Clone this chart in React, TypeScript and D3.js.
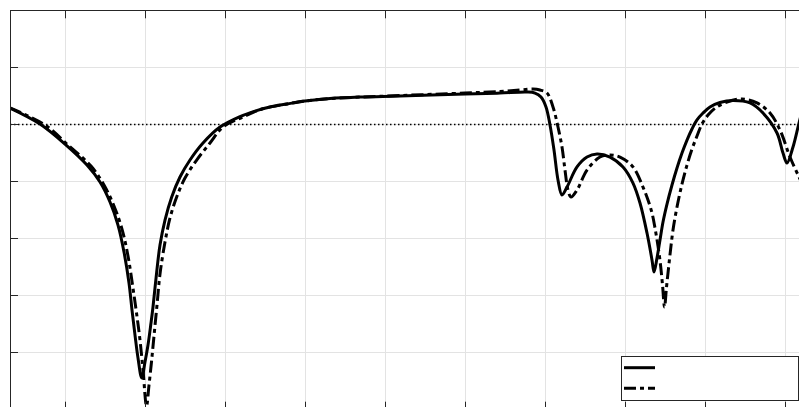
import React from "react"
import * as d3 from "d3"

const WIDTH = 799
const HEIGHT = 407

// frequency axis, grid every 1
const xTicks = [0, 1, 2, 3, 4, 5, 6, 7, 8, 9]
// magnitude axis, grid every 5
const yTicks = [0, -5, -10, -15, -20, -25, -30, -35]
const refLevel = -10

// solid series
const solidX = [
	-0.6875, -0.3125, 0, 0.275, 0.4375, 0.5625, 0.6625, 0.7375, 0.8, 0.8375,
	0.875, 0.9125, 0.959, 1.0, 1.0375, 1.075, 1.1, 1.146, 1.1875, 1.25,
	1.334, 1.4375, 1.5625, 1.725, 1.9375, 2.1875, 2.375, 2.5625, 2.775, 3.0,
	3.3125, 3.6875, 4.1875, 5.0, 5.4375, 5.775, 5.875, 5.95, 6.0125, 6.0625,
	6.1125, 6.1625, 6.2125, 6.275, 6.4, 6.525, 6.65, 6.8125, 6.975, 7.1,
	7.1875, 7.275, 7.3375, 7.3625, 7.4, 7.4375, 7.475, 7.525, 7.5875, 7.65,
	7.7125, 7.775, 7.8375, 7.9, 7.975, 8.0625, 8.1875, 8.35, 8.5625, 8.725,
	8.9, 8.975, 9.025, 9.1, 9.175, 9.25]
const solidY = [
	-8.56, -9.96, -11.72, -13.56, -15.05, -16.8, -18.82, -21.18, -23.9, -26.27,
	-28.46, -30.47, -32.22, -30.82, -29.33, -27.4, -26.0, -22.94, -20.57, -18.38,
	-16.36, -14.61, -13.12, -11.63, -10.23, -9.31, -8.83, -8.47, -8.21, -7.95,
	-7.73, -7.6, -7.51, -7.34, -7.25, -7.16, -7.25, -7.6, -8.47, -10.05,
	-12.24, -14.87, -16.19, -15.49, -13.73, -12.86, -12.59, -12.86, -13.73, -15.14,
	-16.89, -19.52, -21.88, -22.94, -21.71, -20.13, -18.55, -16.98, -15.31, -13.82,
	-12.51, -11.37, -10.4, -9.61, -9.0, -8.47, -8.08, -7.91, -8.12, -9.0,
	-10.75, -12.51, -13.38, -11.98, -9.88, -7.86]

// dash-dot series
const dashX = [
	-0.6875, -0.25, 0.05, 0.325, 0.4875, 0.6125, 0.7125, 0.7875, 0.844, 0.894,
	0.9375, 0.975, 1.019, 1.05, 1.081, 1.1125, 1.15, 1.1875, 1.25, 1.3125,
	1.396, 1.5, 1.646, 1.8125, 1.975, 2.225, 2.4625, 2.775, 3.0, 3.3125,
	3.6875, 4.1875, 5.0, 5.4375, 5.6875, 5.85, 5.9375, 6.025, 6.1, 6.1625,
	6.2125, 6.25, 6.2875, 6.325, 6.4, 6.525, 6.6875, 6.8125, 6.9375, 7.1,
	7.225, 7.2875, 7.3375, 7.375, 7.4125, 7.444, 7.469, 7.494, 7.519, 7.544,
	7.569, 7.6, 7.65, 7.7125, 7.775, 7.8375, 7.9, 7.9625, 8.0375, 8.1375,
	8.275, 8.4625, 8.65, 8.8125, 8.9375, 9.0625, 9.175, 9.25]
const dashY = [
	-8.56, -10.05, -11.89, -13.65, -15.31, -17.15, -19.17, -21.53, -24.07, -26.53,
	-28.9, -31.52, -34.68, -32.84, -30.82, -28.54, -25.83, -23.11, -20.31, -18.2,
	-16.36, -14.7, -13.12, -11.63, -10.23, -9.35, -8.65, -8.21, -7.95, -7.73,
	-7.6, -7.47, -7.25, -7.12, -6.99, -6.9, -6.99, -7.25, -8.47, -10.23,
	-11.98, -14.0, -15.75, -16.36, -15.75, -14.0, -12.86, -12.68, -12.86, -13.73,
	-15.49, -16.62, -17.76, -19.08, -20.66, -22.32, -24.07, -26.0, -24.25, -22.59,
	-21.01, -19.25, -17.24, -15.22, -13.56, -12.16, -11.02, -9.96, -9.18, -8.52,
	-8.04, -7.77, -8.12, -9.0, -10.49, -12.86, -14.61, -15.75]

const seriesNames = ["", ""]
const seriesDash = ["none", "12,4,4,4"]

export default function App() {
	const x = d3.scaleLinear().domain([-0.6875, 9.3125]).range([10, 810])
	const y = d3.scaleLinear().domain([-35, 0]).range([409.7, 10.3])
	const crisp = (v: number) => Math.round(v - 0.5) + 0.5

	const line = d3.line<[number, number]>()
		.x(d => x(d[0]))
		.y(d => y(d[1]))
		.curve(d3.curveCatmullRom.alpha(0.5))

	const series = [
		solidX.map((v, i) => [v, solidY[i]] as [number, number]),
		dashX.map((v, i) => [v, dashY[i]] as [number, number])
	]

	const [x0, x1] = x.range()
	const [yb, yt] = y.range()
	const axisColor = "#262626"
	const gridColor = "#e3e3e3"
	const tick = 8

	return (
		<svg width={WIDTH} height={HEIGHT} style={{ position: "absolute", left: 0, top: 0, display: "block", background: "#fff" }}>
			<defs>
				<clipPath id="plot-clip">
					<rect x={x0} y={yt} width={x1 - x0} height={yb - yt} />
				</clipPath>
			</defs>
			<rect x={x0} y={yt} width={x1 - x0} height={yb - yt} fill="#fff" />
			<g className="grid">
				{xTicks.map(t => (
					<line key={"gx" + t} x1={crisp(x(t))} x2={crisp(x(t))} y1={yt} y2={yb} stroke={gridColor} strokeWidth={1} />
				))}
				{yTicks.map(t => (
					<line key={"gy" + t} x1={x0} x2={x1} y1={crisp(y(t))} y2={crisp(y(t))} stroke={gridColor} strokeWidth={1} />
				))}
			</g>
			<line x1={x0} x2={x1} y1={y(refLevel)} y2={y(refLevel)} stroke="#000" strokeWidth={1.5} strokeDasharray="1.5,2.5" />
			<g clipPath="url(#plot-clip)">
				{series.map((s, i) => (
					<path key={"s" + i} d={line(s) || ""} fill="none" stroke="#000" strokeWidth={3}
						strokeDasharray={seriesDash[i]} strokeLinejoin="round" />
				))}
			</g>
			<g className="axes" stroke={axisColor} strokeWidth={1}>
				<line x1={crisp(x0)} x2={crisp(x0)} y1={yt} y2={yb} />
				<line x1={x0} x2={x1} y1={crisp(yt)} y2={crisp(yt)} />
				<line x1={x0} x2={x1} y1={crisp(yb)} y2={crisp(yb)} />
				{xTicks.map(t => (
					<g key={"tx" + t}>
						<line x1={crisp(x(t))} x2={crisp(x(t))} y1={yt} y2={yt + tick} />
						<line x1={crisp(x(t))} x2={crisp(x(t))} y1={yb} y2={yb - tick} />
					</g>
				))}
				{yTicks.map(t => (
					<line key={"ty" + t} x1={x0} x2={x0 + tick} y1={crisp(y(t))} y2={crisp(y(t))} />
				))}
			</g>
			<g className="legend" transform="translate(621.5, 356.5)">
				<rect x={0} y={0} width={177} height={44} fill="#fff" stroke={axisColor} strokeWidth={1} />
				{seriesNames.map((name, i) => (
					<g key={"l" + i} transform={`translate(0, ${11.2 + i * 20.6})`}>
						<line x1={2.5} x2={33.5} y1={0} y2={0} stroke="#000" strokeWidth={3} strokeDasharray={seriesDash[i]} />
						<text x={40} y={4} fontFamily="Liberation Sans, Arial, sans-serif" fontSize={12}>{name}</text>
					</g>
				))}
			</g>
		</svg>
	)
}
